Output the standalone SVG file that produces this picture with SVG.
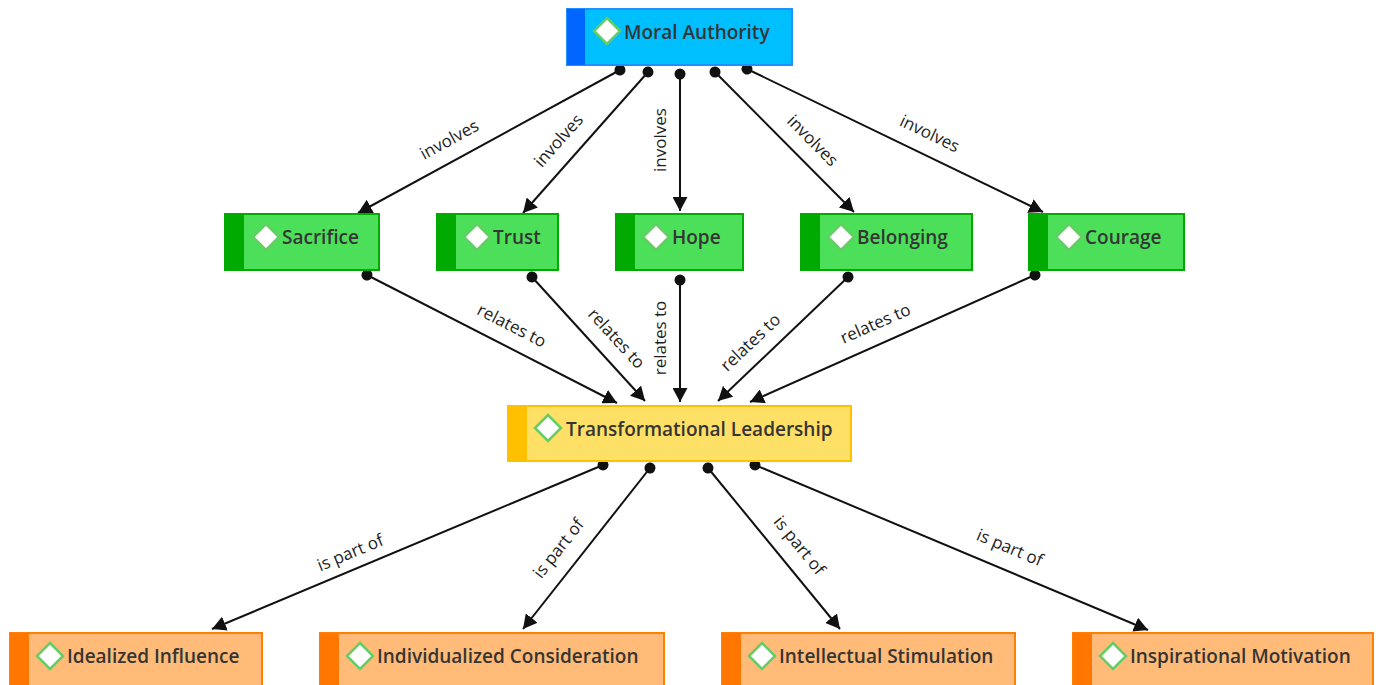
<svg xmlns="http://www.w3.org/2000/svg" width="1376" height="685" viewBox="0 0 1376 685">
<defs>
<style>
.lbl{font-family:"Open Sans","Noto Sans",sans-serif;font-size:19px;font-weight:600;fill:#353535}
.el{font-family:"Open Sans","Noto Sans",sans-serif;font-size:17px;fill:#1e1e1e;text-anchor:middle;dominant-baseline:central}
.edge{stroke:#111111;stroke-width:2;fill:none;marker-start:url(#dot);marker-end:url(#arr)}
.icon{fill:#ffffff;stroke:#66cc66;stroke-width:2.5}
.blue{fill:#00bfff;stroke:#1e90ff;stroke-width:2}
.blueS{fill:#0066ff}
.green{fill:#4ce05a;stroke:#00aa00;stroke-width:2}
.greenS{fill:#00aa00}
.yellow{fill:#ffe066;stroke:#ffc000;stroke-width:2}
.yellowS{fill:#ffc000}
.orange{fill:#ffbb77;stroke:#ff7f00;stroke-width:2}
.orangeS{fill:#ff7700}
</style>
<marker id="arr" markerUnits="userSpaceOnUse" markerWidth="15" markerHeight="15" refX="14" refY="7.5" orient="auto"><path d="M0,0 L14,7.5 L0,15 Z" fill="#111111"/></marker>
<marker id="dot" markerUnits="userSpaceOnUse" markerWidth="12" markerHeight="12" refX="6" refY="6" orient="auto"><circle cx="6" cy="6" r="5.5" fill="#111111"/></marker>
</defs>

<g id="connectors">
<line class="edge" x1="620" y1="70" x2="358" y2="213"/>
<line class="edge" x1="648" y1="72" x2="523" y2="213"/>
<line class="edge" x1="680" y1="74" x2="680" y2="211"/>
<line class="edge" x1="715" y1="72" x2="854" y2="212"/>
<line class="edge" x1="747" y1="69" x2="1043" y2="212"/>
<text class="el" transform="translate(449,139) rotate(-28.6)">involves</text>
<text class="el" transform="translate(558,140) rotate(-48.4)">involves</text>
<text class="el" transform="translate(659,140) rotate(-90)">involves</text>
<text class="el" transform="translate(813,140) rotate(45.2)">involves</text>
<text class="el" transform="translate(930,133) rotate(25.8)">involves</text>

<line class="edge" x1="367" y1="275" x2="617" y2="403"/>
<line class="edge" x1="532" y1="277" x2="645" y2="401"/>
<line class="edge" x1="680" y1="280" x2="680" y2="402"/>
<line class="edge" x1="848" y1="277" x2="718" y2="401"/>
<line class="edge" x1="1035" y1="275" x2="750" y2="402"/>
<text class="el" transform="translate(512,325) rotate(27.1)">relates to</text>
<text class="el" transform="translate(617,338) rotate(47.4)">relates to</text>
<text class="el" transform="translate(659,338) rotate(-90)">relates to</text>
<text class="el" transform="translate(750,342) rotate(-43.4)">relates to</text>
<text class="el" transform="translate(875,323) rotate(-23.7)">relates to</text>

<line class="edge" x1="603" y1="465" x2="212" y2="629"/>
<line class="edge" x1="650" y1="468" x2="523" y2="629"/>
<line class="edge" x1="708" y1="468" x2="840" y2="629"/>
<line class="edge" x1="755" y1="465" x2="1148" y2="630"/>
<text class="el" transform="translate(350,552) rotate(-22.6)">is part of</text>
<text class="el" transform="translate(558,548) rotate(-51.6)">is part of</text>
<text class="el" transform="translate(800,545) rotate(50.5)">is part of</text>
<text class="el" transform="translate(1010,547) rotate(22.8)">is part of</text>
</g>

<g id="moral-authority">
<rect class="blue" x="567" y="9" width="225" height="56"/>
<rect class="blueS" x="567" y="9" width="18" height="56"/>
<path class="icon" d="M607,18 L620,31 L607,44 L594,31 Z"/>
<text class="lbl" x="624" y="39">Moral Authority</text>
</g>

<g id="sacrifice">
<rect class="green" x="225" y="214" width="154" height="56"/>
<rect class="greenS" x="225" y="214" width="19" height="56"/>
<path class="icon" d="M266,224 L279,237 L266,250 L253,237 Z"/>
<text class="lbl" x="282" y="244">Sacrifice</text>
</g>

<g id="trust">
<rect class="green" x="437" y="214" width="121" height="56"/>
<rect class="greenS" x="437" y="214" width="19" height="56"/>
<path class="icon" d="M477,224 L490,237 L477,250 L464,237 Z"/>
<text class="lbl" x="493" y="244">Trust</text>
</g>

<g id="hope">
<rect class="green" x="616" y="214" width="127" height="56"/>
<rect class="greenS" x="616" y="214" width="19" height="56"/>
<path class="icon" d="M656,224 L669,237 L656,250 L643,237 Z"/>
<text class="lbl" x="672" y="244">Hope</text>
</g>

<g id="belonging">
<rect class="green" x="801" y="214" width="171" height="56"/>
<rect class="greenS" x="801" y="214" width="19" height="56"/>
<path class="icon" d="M841,224 L854,237 L841,250 L828,237 Z"/>
<text class="lbl" x="857" y="244">Belonging</text>
</g>

<g id="courage">
<rect class="green" x="1029" y="214" width="155" height="56"/>
<rect class="greenS" x="1029" y="214" width="19" height="56"/>
<path class="icon" d="M1069,224 L1082,237 L1069,250 L1056,237 Z"/>
<text class="lbl" x="1085" y="244">Courage</text>
</g>

<g id="transformational-leadership">
<rect class="yellow" x="508" y="406" width="343" height="55"/>
<rect class="yellowS" x="508" y="406" width="19" height="55"/>
<path class="icon" d="M548,415 L561,428 L548,441 L535,428 Z"/>
<text class="lbl" x="566" y="436">Transformational Leadership</text>
</g>

<g id="idealized-influence">
<rect class="orange" x="10" y="633" width="252" height="60"/>
<rect class="orangeS" x="10" y="633" width="19" height="60"/>
<path class="icon" d="M50,643 L63,656 L50,669 L37,656 Z"/>
<text class="lbl" x="67" y="663">Idealized Influence</text>
</g>

<g id="individualized-consideration">
<rect class="orange" x="320" y="633" width="344" height="60"/>
<rect class="orangeS" x="320" y="633" width="19" height="60"/>
<path class="icon" d="M360,643 L373,656 L360,669 L347,656 Z"/>
<text class="lbl" x="377" y="663">Individualized Consideration</text>
</g>

<g id="intellectual-stimulation">
<rect class="orange" x="722" y="633" width="293" height="60"/>
<rect class="orangeS" x="722" y="633" width="19" height="60"/>
<path class="icon" d="M762,643 L775,656 L762,669 L749,656 Z"/>
<text class="lbl" x="779" y="663">Intellectual Stimulation</text>
</g>

<g id="inspirational-motivation">
<rect class="orange" x="1073" y="633" width="300" height="60"/>
<rect class="orangeS" x="1073" y="633" width="19" height="60"/>
<path class="icon" d="M1113,643 L1126,656 L1113,669 L1100,656 Z"/>
<text class="lbl" x="1130" y="663">Inspirational Motivation</text>
</g>
</svg>
